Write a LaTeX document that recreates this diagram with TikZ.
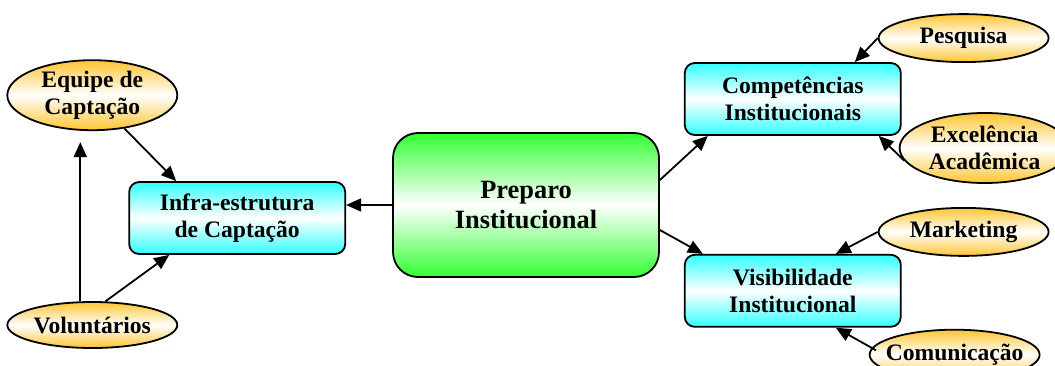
\documentclass[tikz,border=0pt]{standalone}
\usepackage{fontspec}
\setmainfont{Liberation Serif}
\usetikzlibrary{positioning,arrows.meta,shapes.geometric}
\definecolor{boxcyan}{HTML}{33FFFF}
\definecolor{boxgreen}{HTML}{33FF33}
\definecolor{ovalorange}{HTML}{FFC532}

\begin{document}
\begin{tikzpicture}[
    x=1pt, y=1pt,
    ->,
    >={Triangle[length=15pt,width=13pt]},
    line width=1.8pt,
    font=\bfseries\fontsize{23.6}{27}\selectfont
]


\tikzstyle{core}=[
    rectangle,
    draw,
    rounded corners=25pt,
    minimum width=266pt,
    minimum height=144pt,
    top color=boxgreen,
    bottom color=boxgreen,
    middle color=white,
    align=center,
    font=\bfseries\fontsize{26.4}{30}\selectfont
]

\tikzstyle{area}=[
    rectangle,
    draw,
    rounded corners=10pt,
    minimum width=216pt,
    minimum height=72pt,
    top color=boxcyan,
    bottom color=boxcyan,
    middle color=white,
    align=center
]

\tikzstyle{source}=[
    ellipse,
    draw,
    inner sep=0pt,
    minimum width=170pt,
    minimum height=48pt,
    top color=ovalorange,
    bottom color=ovalorange,
    middle color=white,
    align=center
]


\path[use as bounding box, clip] (0,0) rectangle (1055,365);


\node[core] (prep) at (526,160) {Preparo\\Institucional};
\node[area, left=46pt of prep, yshift=-13pt] (infra) {Infra-estrutura\\de Captação};
\node[area, right=24pt of prep, yshift=106pt] (comp) {Competências\\Institucionais};
\node[area, below=118pt of comp] (vis) {Visibilidade\\Institucional};


\node[source, minimum height=70pt, above=50pt of infra.north west, xshift=-36pt] (equipe) {Equipe de\\Captação};
\node[source, minimum height=46pt, below=170pt of equipe] (volunt) {Voluntários};
\node[source, right=-24pt of comp.north east, yshift=24pt] (pesq) {Pesquisa};
\node[source, minimum height=70pt, right=-3pt of comp.east, yshift=-49pt] (exc) {Excelência\\Acadêmica};
\node[source, right=-24pt of vis.north east, yshift=22pt] (mark) {Marketing};
\node[source, inner xsep=-9pt, minimum height=50pt, right=-33pt of vis.south east, yshift=-27pt] (comm) {Comunicação};


\draw (prep.west) -- (prep.west -| infra.east);
\draw ([yshift=25pt]prep.east) -- ([xshift=-85pt]comp.south);
\draw ([yshift=-25pt]prep.east) -- ([xshift=-90pt]vis.north);

\draw[shorten >=11pt] ([xshift=-12pt]volunt.north) -- ([xshift=-12pt]equipe.south);
\draw (equipe.-46) -- ([xshift=-61pt]infra.north);
\draw (volunt.61) -- ([xshift=-68pt]infra.south);

\draw (pesq.west) -- ([xshift=62pt]comp.north);
\draw (exc.189) -- ([xshift=-23pt]comp.south east);
\draw (mark.west) -- ([xshift=43pt]vis.north);
\draw ([xshift=6pt]comm.177) -- ([xshift=43pt]vis.south);

\end{tikzpicture}
\end{document}
